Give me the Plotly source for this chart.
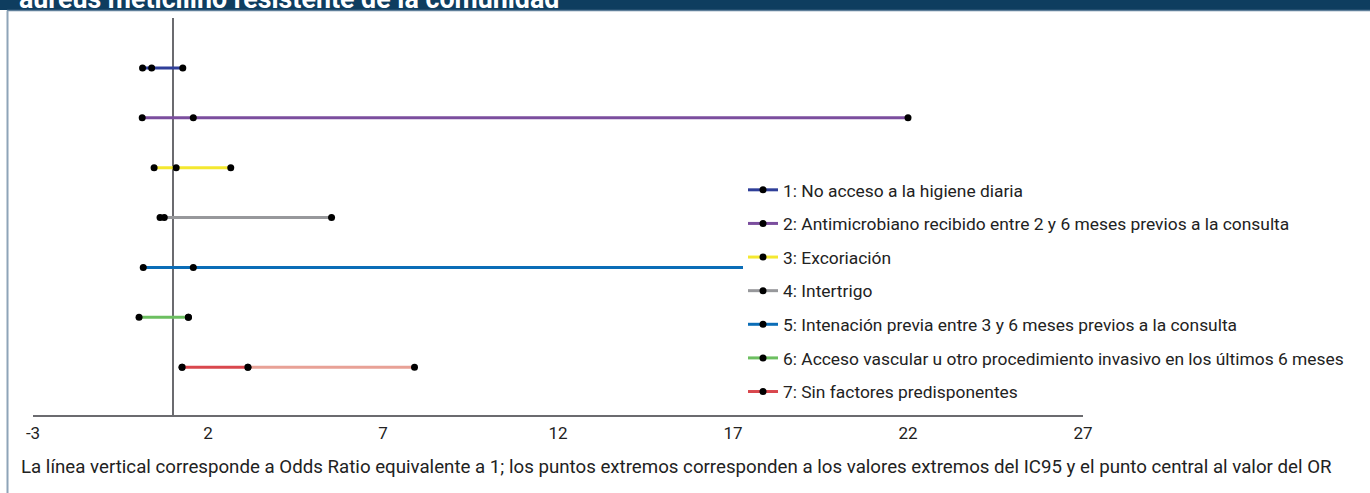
import plotly.graph_objects as go

labels = [
    "1: No acceso a la higiene diaria",
    "2: Antimicrobiano recibido entre 2 y 6 meses previos a la consulta",
    "3: Excoriación",
    "4: Intertrigo",
    "5: Intenación previa entre 3 y 6 meses previos a la consulta",
    "6: Acceso vascular u otro procedimiento invasivo en los últimos 6 meses",
    "7: Sin factores predisponentes",
]
row = [1, 2, 3, 4, 5, 6, 7]
ic_low = [0.13, 0.12, 0.46, 0.63, 0.15, 0.03, 1.26]
odds = [0.39, 1.58, 1.09, 0.75, 1.58, 1.44, 3.14]
ic_high = [1.28, 22.0, 2.65, 5.53, 25.0, 1.44, 7.9]
colors = ["#2f3f99", "#7b4e9e", "#f4e830", "#97989b", "#0b6db7", "#6cbf60", "#d9474d"]
color_7_upper = "#e8a196"
tick_vals = [-3, 2, 7, 12, 17, 22, 27]
title_text = "aureus meticilino resistente de la comunidad"
footer_text = ("La línea vertical corresponde a Odds Ratio equivalente a 1; los puntos extremos "
               "corresponden a los valores extremos del IC95 y el punto central al valor del OR")

W, H = 1370, 493
ML, MR, MT, MB = 33, 287, 40, 78
PW = W - ML - MR
PHt = H - MT - MB

def px_x(p):
    return (p - ML) / PW

def px_y(p):
    return (H - MB - p) / PHt

fig = go.Figure()
for i in range(7):
    if i < 6:
        fig.add_trace(go.Scatter(
            x=[ic_low[i], odds[i], ic_high[i]], y=[row[i]] * 3,
            mode="lines+markers", name=labels[i], legendgroup=str(i),
            line=dict(color=colors[i], width=3),
            marker=dict(color="black", size=7),
            hoverinfo="x+name",
        ))
    else:
        fig.add_trace(go.Scatter(
            x=[odds[i], ic_high[i]], y=[row[i]] * 2,
            mode="lines", showlegend=False, legendgroup=str(i),
            line=dict(color=color_7_upper, width=3), hoverinfo="skip",
        ))
        fig.add_trace(go.Scatter(
            x=[ic_low[i], odds[i], ic_high[i]], y=[row[i]] * 3,
            mode="markers", showlegend=False, legendgroup=str(i),
            marker=dict(color="black", size=7), hoverinfo="x",
        ))
        fig.add_trace(go.Scatter(
            x=[ic_low[i], odds[i]], y=[row[i]] * 2,
            mode="lines+markers", name=labels[i], legendgroup=str(i),
            line=dict(color=colors[i], width=3),
            marker=dict(color="black", size=7),
            hoverinfo="x+name",
        ))

# reference line at OR = 1
fig.add_shape(type="line", xref="x", yref="paper", x0=1, x1=1,
              y0=0, y1=px_y(18), line=dict(color="#6b6b6f", width=2), layer="below")
# title bar
fig.add_shape(type="rect", xref="paper", yref="paper", x0=px_x(0), x1=px_x(W),
              y0=px_y(10), y1=px_y(-5), fillcolor="#0e3d5f", line=dict(width=0))
fig.add_shape(type="line", xref="paper", yref="paper", x0=px_x(7), x1=px_x(W),
              y0=px_y(10.5), y1=px_y(10.5), line=dict(color="#5f7f9a", width=1.5))
# left border
fig.add_shape(type="line", xref="paper", yref="paper", x0=px_x(7.5), x1=px_x(7.5),
              y0=px_y(H + 5), y1=px_y(10.5), line=dict(color="#8ea4b8", width=2))

fig.add_annotation(text="<b>" + title_text + "</b>", xref="paper", yref="paper",
                   x=px_x(17), y=px_y(17), xanchor="left", yanchor="bottom",
                   showarrow=False, font=dict(family="Roboto", size=26.8, color="white"))
fig.add_annotation(text=footer_text, xref="paper", yref="paper",
                   x=px_x(19), y=px_y(467), xanchor="left", yanchor="middle",
                   showarrow=False, font=dict(family="Roboto", size=18.7, color="#222222"))

fig.update_layout(
    width=W, height=H,
    margin=dict(l=ML, r=MR, t=MT, b=MB, autoexpand=False),
    paper_bgcolor="white", plot_bgcolor="white",
    font=dict(family="Roboto", size=14, color="#222222"),
    showlegend=True,
    legend=dict(x=px_x(743), y=px_y(172), xanchor="left", yanchor="top",
                bgcolor="white", traceorder="grouped", tracegroupgap=8,
                font=dict(family="Roboto", size=17.4, color="#222222"),
                itemclick=False, itemdoubleclick=False),
    xaxis=dict(range=[-3, 27], tickvals=tick_vals, ticktext=[str(v) for v in tick_vals],
               showgrid=False, zeroline=False, showline=True, linecolor="#6b6b6f",
               linewidth=2, ticks="outside", ticklen=2, tickcolor="rgba(0,0,0,0)",
               tickfont=dict(family="Roboto", size=17, color="#222222")),
    yaxis=dict(range=[7.96, 0.438], showgrid=False, zeroline=False, showline=False,
               showticklabels=False, ticks=""),
)

fig.write_html("out.html", config={"displayModeBar": False},
               post_script="document.body.style.margin='0';document.body.style.overflow='hidden';")
